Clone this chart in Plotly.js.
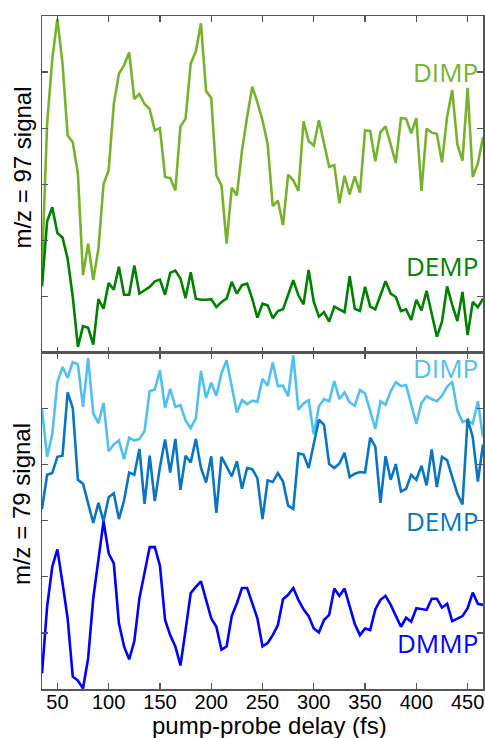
<!DOCTYPE html>
<html>
<head>
<meta charset="utf-8">
<script src="https://cdn.plot.ly/plotly-3.0.1.min.js"></script>
<style>
html,body{margin:0;padding:0;background:#fff;}
#chart{width:485px;height:738px;}
</style>
</head>
<body>
<div id="chart"></div>
<script>
// pump-probe delay (fs)
var delay = [35,40,45,50,55,60,65,70,75,80,85,90,95,100,105,110,115,120,125,130,135,140,145,150,155,160,165,170,175,180,185,190,195,200,205,210,215,220,225,230,235,240,245,250,255,260,265,270,275,280,285,290,295,300,305,310,315,320,325,330,335,340,345,350,355,360,365,370,375,380,385,390,395,400,405,410,415,420,425,430,435,440,445,450,455,460,465];

// m/z = 97 signal
var dimp97 = [1.55,4.08,5.23,5.95,5.15,3.87,3.75,3.19,1.38,1.94,1.29,1.85,3.00,3.25,4.43,4.97,5.12,5.35,4.52,4.61,4.43,4.34,3.96,4.00,3.13,3.11,2.89,4.03,4.17,5.15,5.37,5.87,4.66,4.54,3.16,2.98,1.94,2.94,2.80,3.60,4.20,4.74,4.46,4.14,3.72,2.61,2.71,2.27,3.17,3.07,2.88,4.12,3.77,3.69,4.14,3.75,3.31,3.34,2.66,3.15,2.82,3.14,2.85,3.96,3.95,3.41,3.93,4.03,3.69,3.38,4.18,4.17,3.91,4.18,2.88,3.99,3.92,3.90,3.39,4.20,4.68,3.71,3.42,4.72,3.13,3.37,3.84];
var demp97 = [1.18,2.34,2.59,2.13,2.05,1.67,0.99,0.10,0.47,0.44,0.14,0.95,0.78,1.24,1.12,1.53,1.03,1.03,1.55,1.05,1.11,1.17,1.27,1.30,1.03,1.42,1.46,1.32,0.97,1.43,0.96,0.94,0.94,0.95,0.81,0.90,0.96,1.26,1.05,1.20,1.23,0.96,0.62,0.87,0.84,0.61,0.74,0.77,1.03,1.29,1.02,0.86,1.47,0.90,0.64,0.72,0.55,0.82,0.77,0.72,1.36,0.78,0.74,1.17,0.82,0.77,1.02,1.27,1.05,0.99,0.74,0.77,0.58,0.94,0.75,1.10,0.69,0.28,0.55,1.18,0.85,0.56,1.08,0.31,0.90,0.81,0.96];

// m/z = 79 signal
var dimp79 = [4.99,4.14,4.54,5.47,5.74,5.55,5.83,5.79,5.03,5.90,4.91,4.74,5.10,4.24,4.36,4.43,4.10,4.48,4.43,4.46,4.60,5.31,5.34,5.68,5.01,5.35,5.03,5.06,4.79,4.65,4.83,5.67,5.19,5.46,5.23,5.63,5.86,5.40,4.93,5.15,5.08,5.14,5.12,5.53,5.41,5.82,5.40,5.41,5.22,5.95,4.98,5.09,5.15,4.54,5.04,5.17,5.13,5.49,5.17,5.29,5.11,5.05,5.33,5.27,4.93,4.64,5.13,5.07,5.31,5.47,5.40,5.42,5.07,4.73,5.10,5.22,5.17,5.13,5.23,5.39,5.48,4.97,4.76,4.79,4.73,5.13,4.49];
var demp79 = [3.21,3.82,3.85,4.14,4.16,5.29,5.01,3.73,3.66,3.29,2.96,3.32,2.99,3.42,3.49,3.03,3.36,3.86,3.82,4.28,3.30,4.16,3.35,3.96,4.45,3.86,4.46,3.55,4.16,4.04,4.46,3.94,3.68,4.15,3.14,4.14,3.96,3.79,4.06,3.57,3.94,3.92,3.76,3.03,3.72,3.69,3.85,3.70,3.27,3.21,4.20,4.18,3.94,4.40,4.80,4.71,4.01,3.94,4.02,4.21,3.78,3.84,3.87,3.86,4.48,4.32,3.32,4.15,3.73,4.01,3.52,3.57,3.82,3.73,3.98,3.63,4.27,3.60,4.14,4.08,3.80,3.48,3.29,4.82,4.49,3.70,4.36];
var dmmp79 = [0.28,1.47,2.18,2.49,1.89,1.26,0.22,0.15,0.01,0.55,1.62,2.30,2.99,2.42,2.24,1.17,0.76,0.53,0.85,1.62,2.10,2.53,2.53,2.20,1.23,0.96,0.76,0.42,1.05,1.71,1.82,1.92,1.59,1.26,1.11,0.70,0.76,1.30,1.53,1.80,1.80,1.53,1.26,0.76,0.82,0.96,1.14,1.60,1.68,1.80,1.59,1.42,1.30,1.08,1.01,1.23,1.32,1.79,1.66,1.79,1.47,1.16,0.96,1.08,1.05,1.42,1.59,1.66,1.50,1.30,1.11,1.27,1.20,1.44,1.43,1.41,1.61,1.61,1.45,1.52,1.21,1.26,1.30,1.44,1.72,1.52,1.50];

var xTicks = [50,100,150,200,250,300,350,400,450];
var seriesLabels = ['DIMP','DEMP','DIMP','DEMP','DMMP'];
var yTitles = ['m/z = 97 signal','m/z = 79 signal'];
var xTitle = 'pump-probe delay (fs)';

var C = {lg:'#77B22F', dg:'#008000', lb:'#52C0EE', mb:'#0A75C2', bl:'#0000FF'};
var W = 2.6;

var traces = [
  {x:delay, y:dimp97, xaxis:'x', yaxis:'y', mode:'lines', line:{color:C.lg,width:W}, hoverinfo:'skip'},
  {x:delay, y:demp97, xaxis:'x', yaxis:'y', mode:'lines', line:{color:C.dg,width:W}, hoverinfo:'skip'},
  {x:delay, y:dimp79, xaxis:'x2', yaxis:'y2', mode:'lines', line:{color:C.lb,width:W}, hoverinfo:'skip'},
  {x:delay, y:demp79, xaxis:'x2', yaxis:'y2', mode:'lines', line:{color:C.mb,width:W}, hoverinfo:'skip'},
  {x:delay, y:dmmp79, xaxis:'x2', yaxis:'y2', mode:'lines', line:{color:C.bl,width:W}, hoverinfo:'skip'}
];

var FONT = 'Liberation Sans, Arial, Helvetica, sans-serif';
var LFONT = 'Open Sans, Noto Sans, sans-serif';
var frame = {showline:true, linecolor:'#555', linewidth:1.5, mirror:'allticks', ticks:'inside', ticklen:6, tickwidth:1.2, tickcolor:'#555', showgrid:false, zeroline:false};

function ax(extra){ return Object.assign({}, frame, extra); }

var layout = {
  width:485, height:738,
  margin:{l:42, r:2, t:16, b:49},
  paper_bgcolor:'#fff', plot_bgcolor:'#fff',
  showlegend:false,
  font:{family:FONT, color:'#000'},
  xaxis: ax({domain:[0,1], anchor:'y', range:[35,465], tickvals:xTicks, showticklabels:false}),
  xaxis2: ax({domain:[0,1], anchor:'y2', range:[35,465], tickvals:xTicks, showticklabels:true, ticklabelstandoff:-6, tickfont:{family:FONT, size:20, color:'#000'}}),
  yaxis: ax({domain:[0.5,1], anchor:'x', range:[0,6], dtick:1, showticklabels:false}),
  yaxis2: ax({domain:[0,0.5], anchor:'x2', range:[0,6], dtick:1, showticklabels:false}),
  annotations:[
    {xref:'paper', yref:'paper', x:-0.045, y:0.775, text:yTitles[0], textangle:-90, showarrow:false, xanchor:'center', yanchor:'middle', font:{family:FONT, size:24, color:'#000'}},
    {xref:'paper', yref:'paper', x:-0.045, y:0.275, text:yTitles[1], textangle:-90, showarrow:false, xanchor:'center', yanchor:'middle', font:{family:FONT, size:24, color:'#000'}},
    {xref:'paper', yref:'paper', x:0.516, y:-0.054, text:xTitle, showarrow:false, xanchor:'center', yanchor:'middle', font:{family:FONT, size:24, color:'#000'}},
    {xref:'paper', yref:'y', x:1, y:5.0, xshift:-3, text:seriesLabels[0], showarrow:false, xanchor:'right', yanchor:'middle', font:{family:LFONT, size:26, color:C.lg}},
    {xref:'paper', yref:'y', x:1, y:1.55, xshift:-3, text:seriesLabels[1], showarrow:false, xanchor:'right', yanchor:'middle', font:{family:LFONT, size:26, color:C.dg}},
    {xref:'paper', yref:'y2', x:1, y:5.73, xshift:-3, text:seriesLabels[2], showarrow:false, xanchor:'right', yanchor:'middle', font:{family:LFONT, size:26, color:C.lb}},
    {xref:'paper', yref:'y2', x:1, y:3.0, xshift:-3, text:seriesLabels[3], showarrow:false, xanchor:'right', yanchor:'middle', font:{family:LFONT, size:26, color:C.mb}},
    {xref:'paper', yref:'y2', x:1, y:0.82, xshift:-3, text:seriesLabels[4], showarrow:false, xanchor:'right', yanchor:'middle', font:{family:LFONT, size:26, color:C.bl}}
  ]
};

Plotly.newPlot('chart', traces, layout, {staticPlot:true, displayModeBar:false});
</script>
</body>
</html>
